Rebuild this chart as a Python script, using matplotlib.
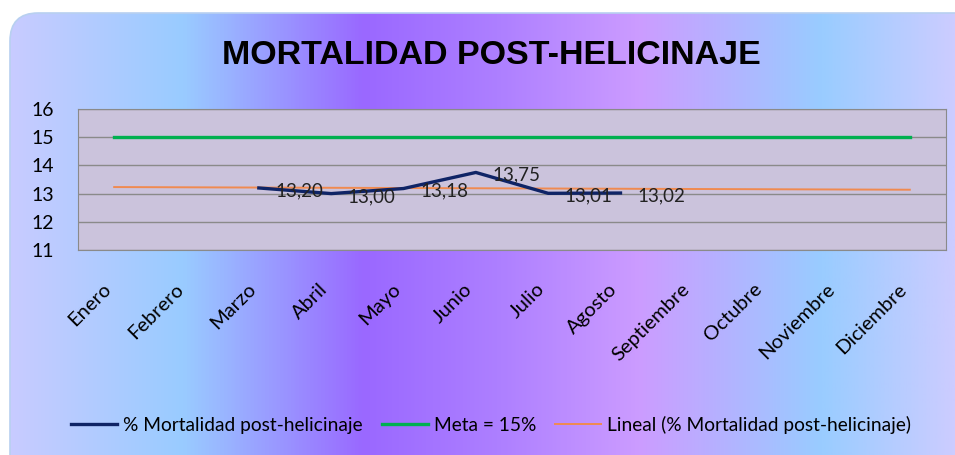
import numpy as np
import matplotlib.pyplot as plt
from matplotlib.colors import LinearSegmentedColormap
from matplotlib.patches import FancyBboxPatch

meses = ['Enero', 'Febrero', 'Marzo', 'Abril', 'Mayo', 'Junio', 'Julio',
         'Agosto', 'Septiembre', 'Octubre', 'Noviembre', 'Diciembre']
mortalidad = [np.nan, np.nan, 13.20, 13.00, 13.18, 13.75, 13.01, 13.02,
              np.nan, np.nan, np.nan, np.nan]
meta = [15] * 12

W, H = 955, 455
fig = plt.figure(figsize=(W / 100, H / 100), dpi=100)
fig.patch.set_facecolor('white')

# gradient background inside a rounded frame
bg = fig.add_axes([0, 0, 1, 1])
bg.set_xlim(0, W)
bg.set_ylim(H, 0)
bg.axis('off')
cmap = LinearSegmentedColormap.from_list('bg', [
    (0.0, '#cbcbff'), (0.19, '#99ccff'), (0.38, '#9a68ff'),
    (0.52, '#ad7fff'), (0.67, '#cc9cff'), (0.86, '#99ccff'), (1.0, '#ccccff')])
grad = np.linspace(0, 1, 512).reshape(1, -1)
im = bg.imshow(grad, cmap=cmap, aspect='auto', extent=[0, W, H, 0])
frame = FancyBboxPatch((10, 13), W + 40, H + 40,
                       boxstyle='round,pad=0,rounding_size=28',
                       facecolor='none', edgecolor='#b8d0f0', lw=1.2,
                       transform=bg.transData)
bg.add_patch(frame)
im.set_clip_path(frame)

ax = fig.add_axes([78 / W, 1 - 250 / H, 868 / W, 141 / H])
ax.set_facecolor('#cbc3dc')
x = np.arange(len(meses))

ax.plot(x, mortalidad, color='#0f2466', lw=2.4, solid_joinstyle='round',
        label='% Mortalidad post-helicinaje', zorder=4)
ax.plot(x, meta, color='#00b050', lw=2.4, label='Meta = 15%', zorder=3)

# linear trend of the monthly series
m = np.array(mortalidad)
ok = ~np.isnan(m)
coef = np.polyfit(x[ok] + 1, m[ok], 1)
ax.plot(x, np.polyval(coef, x + 1), color='#f08a50', lw=1.4,
        label='Lineal (% Mortalidad post-helicinaje)', zorder=3.5)

for xi, v in zip(x, mortalidad):
    if not np.isnan(v):
        ax.annotate(f'{v:.2f}'.replace('.', ','), (xi, v),
                    xytext=(12, -2), textcoords='offset points',
                    ha='left', va='center', fontsize=13.5, family='Lato',
                    color='#222222', zorder=5)

ax.set_xlim(-0.5, 11.5)
ax.set_ylim(11, 16)
ax.set_yticks([11, 12, 13, 14, 15, 16])
ax.yaxis.grid(True, color='#8a8a8a', lw=1)
ax.set_axisbelow(True)
for s in ax.spines.values():
    s.set_color('#8a8a8a')
ax.tick_params(axis='both', length=0, labelsize=14)
ax.tick_params(axis='y', pad=17)
ax.set_xticks(x)
ax.set_xticklabels(meses, rotation=45, ha='right', va='top',
                   fontsize=14.5, family='Lato')
ax.tick_params(axis='x', pad=22)
for lab in ax.get_yticklabels():
    lab.set_family('Lato')

fig.text(491 / W, 1 - 55 / H, 'MORTALIDAD POST-HELICINAJE', ha='center',
         va='center', fontsize=24.5, fontweight='bold',
         family='Liberation Sans', color='black')

fig.legend(loc='center', bbox_to_anchor=(491 / W, 1 - 425 / H), ncol=3,
           frameon=False, handlelength=2.4, columnspacing=1.0,
           handletextpad=0.3, prop={'family': 'Lato', 'size': 13.8})

fig.savefig('out.png', dpi=100)
